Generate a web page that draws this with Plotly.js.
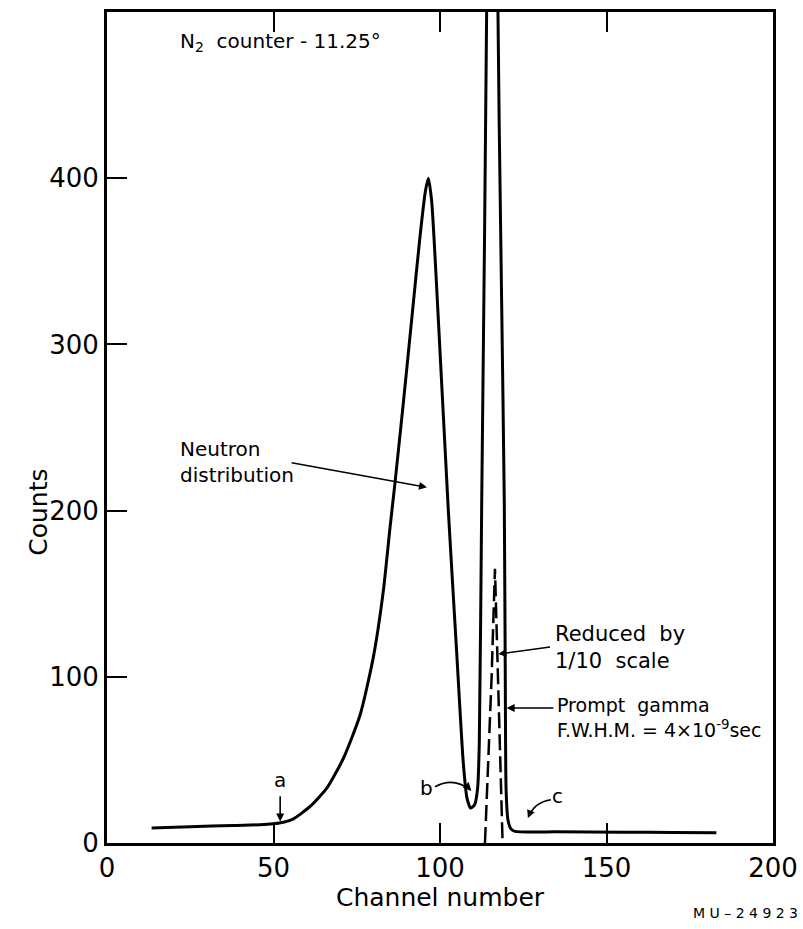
<!DOCTYPE html>
<html>
<head>
<meta charset="utf-8">
<script src="https://cdn.plot.ly/plotly-3.0.1.min.js"></script>
<style>html,body{margin:0;padding:0;background:#fff;}#chart{width:803px;height:929px;}</style>
</head>
<body>
<div id="chart"></div>
<script>
// Solid curve: neutron distribution followed by the prompt gamma peak (full scale, clipped above)
const solidChannel = [13.4, 25, 38, 46, 50, 53, 56, 61, 66, 71, 76, 80, 83, 85, 86.5, 89, 91.5, 94, 95.6, 96.5, 97.5, 99.5, 102.5, 105, 107, 108.1, 109.2, 110.4, 111.3, 111.8, 112.5, 114.05, 116.3, 117.35, 118.5, 119.3, 119.6, 119.85, 120.4, 121.3, 122.5, 135, 155, 170, 183];
const solidCounts  = [9, 9.8, 10.6, 11, 11.6, 12.5, 14.5, 22, 33, 51, 77, 112, 152, 190, 217, 265, 315, 365, 392, 400, 386, 315, 200, 115, 48, 27, 21, 23, 33, 60, 200, 510, 1650, 510, 327, 206, 100, 32, 14, 8.5, 7, 6.7, 6.5, 6.3, 6.1];
// Dashed curve: prompt gamma reduced by 1/10 scale
const dashChannel = [113.5, 114.5, 115.5, 116.5, 117.3, 118, 118.8];
const dashCounts  = [0, 45, 100, 165, 110, 55, 0];

const xTicks = [0, 50, 100, 150, 200];
const xTickText = ['0', '50', '100', '150', '200'];
const yTicks = [0, 100, 200, 300, 400];
const yTickText = ['0', '100', '200', '300', '400'];

const FONT = 'DejaVu Sans, sans-serif';
const TXT = {family: FONT, size: 20, color: '#000'};

const traces = [
  {x: solidChannel, y: solidCounts, type: 'scatter', mode: 'lines',
   line: {color: '#000', width: 3, shape: 'spline', smoothing: 0.6}, hoverinfo: 'skip'},
  {x: dashChannel, y: dashCounts, type: 'scatter', mode: 'lines',
   line: {color: '#000', width: 2.5, dash: '16px,6px'}, hoverinfo: 'skip'}
];

const arrowStyle = {showarrow: true, arrowhead: 2, arrowsize: 1, arrowwidth: 1.6, arrowcolor: '#000',
                    axref: 'x', ayref: 'y', xref: 'x', yref: 'y', text: ''};

const annotations = [
  {x: 21.3, y: 482, xref: 'x', yref: 'y', xanchor: 'left', yanchor: 'middle', showarrow: false,
   text: 'N<sub>2</sub>  counter - 11.25°', font: TXT},
  {x: 21.3, y: 229, xref: 'x', yref: 'y', xanchor: 'left', yanchor: 'middle', showarrow: false, align: 'left',
   text: 'Neutron<br>distribution', font: {family: FONT, size: 20, color: '#000'}},
  Object.assign({}, arrowStyle, {x: 96.1, y: 214, ax: 55, ay: 229}),
  {x: 52, y: 38, xref: 'x', yref: 'y', showarrow: false, text: 'a', font: TXT},
  Object.assign({}, arrowStyle, {x: 52, y: 13, ax: 52, ay: 29}),
  {x: 95.8, y: 33, xref: 'x', yref: 'y', showarrow: false, text: 'b', font: TXT},
  Object.assign({}, arrowStyle, {x: 109.4, y: 31.5, ax: 108.2, ay: 34}),
  {x: 135.4, y: 28, xref: 'x', yref: 'y', showarrow: false, text: 'c', font: TXT},
  Object.assign({}, arrowStyle, {x: 126.4, y: 15, ax: 127.2, ay: 19}),
  {x: 134, y: 117.6, xref: 'x', yref: 'y', xanchor: 'left', yanchor: 'middle', showarrow: false, align: 'left',
   text: 'Reduced  by<br>1/10  scale', font: {family: FONT, size: 21, color: '#000'}},
  Object.assign({}, arrowStyle, {x: 117.5, y: 113.7, ax: 133.5, ay: 118}),
  {x: 134.5, y: 75.5, xref: 'x', yref: 'y', xanchor: 'left', yanchor: 'middle', showarrow: false, align: 'left',
   text: 'Prompt  gamma<br>F.W.H.M. = 4×10<sup>-9</sup>sec', font: {family: FONT, size: 19, color: '#000'}},
  Object.assign({}, arrowStyle, {x: 120, y: 81.2, ax: 134.5, ay: 81.2}),
  {x: -0.1276, y: 0.398, xref: 'paper', yref: 'paper', showarrow: false, textangle: -90,
   text: 'Counts', font: {family: FONT, size: 25, color: '#000'}},
  {x: 1.041, y: -0.0842, xref: 'paper', yref: 'paper', xanchor: 'right', yanchor: 'middle', showarrow: false,
   text: 'M U – 2 4 9 2 3', font: {family: FONT, size: 14, color: '#000'}}
];

const shapes = [
  {type: 'path', xref: 'x', yref: 'y', path: 'M 98.5,33.8 Q 104,40 109.2,31.8', line: {color: '#000', width: 1.6}},
  {type: 'path', xref: 'x', yref: 'y', path: 'M 133.3,26 Q 128.5,24.5 126.8,16.5', line: {color: '#000', width: 1.6}}
];

const layout = {
  width: 803, height: 929,
  margin: {l: 107, r: 30, t: 12, b: 86, pad: 0},
  paper_bgcolor: '#fff', plot_bgcolor: '#fff',
  showlegend: false,
  font: {family: FONT, color: '#000'},
  xaxis: {
    range: [0, 200], tickvals: xTicks, ticktext: xTickText,
    ticks: 'inside', ticklen: 20, tickwidth: 2, tickcolor: '#000',
    showline: true, linecolor: '#000', linewidth: 3, mirror: 'ticks',
    showgrid: false, zeroline: false,
    tickfont: {family: FONT, size: 26, color: '#000'},
    title: {text: 'Channel number', font: {family: FONT, size: 25, color: '#000'}, standoff: 0}
  },
  yaxis: {
    range: [0, 500], tickvals: yTicks, ticktext: yTickText,
    ticks: 'inside', ticklen: 20, tickwidth: 2, tickcolor: '#000',
    showline: true, linecolor: '#000', linewidth: 3, mirror: true,
    showgrid: false, zeroline: false,
    tickfont: {family: FONT, size: 26, color: '#000'}
  },
  shapes: shapes,
  annotations: annotations
};

Plotly.newPlot('chart', traces, layout, {staticPlot: true, displayModeBar: false});
</script>
</body>
</html>
